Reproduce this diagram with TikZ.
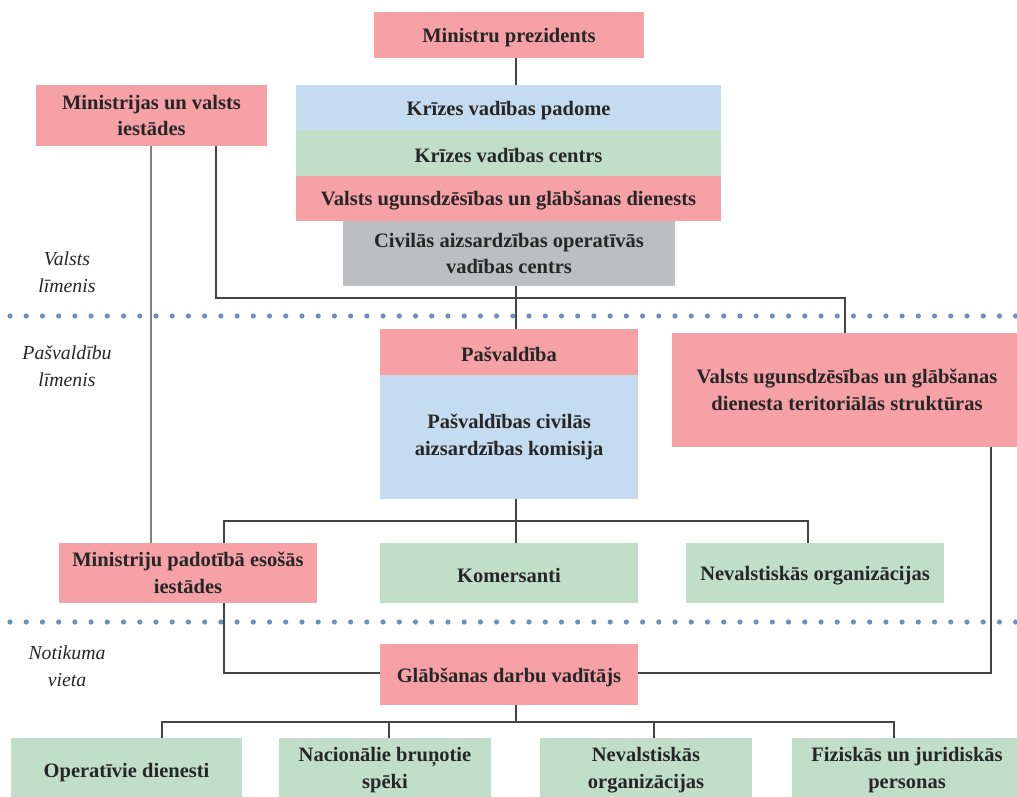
\documentclass[tikz,border=0pt]{standalone}
\usepackage{fontspec}
\setmainfont{Liberation Serif}
\definecolor{cred}{HTML}{F6A1A5}
\definecolor{cblue}{HTML}{C5DBF0}
\definecolor{cgreen}{HTML}{C1DFC8}
\definecolor{cgray}{HTML}{BDBEC2}
\definecolor{txt}{HTML}{262626}
\definecolor{dotc}{HTML}{6B8FC5}
\definecolor{linec}{HTML}{444444}
\begin{document}
\begin{tikzpicture}[x=1pt,y=-1pt,
  box/.style={inner sep=0pt, outer sep=0pt, align=center, text=txt,
    font=\bfseries\fontsize{20.5}{26.5}\selectfont,
    execute at begin node={\rule{0pt}{19.5pt}}},
  lvl/.style={inner sep=0pt, align=center, text=txt,
    font=\itshape\fontsize{19.8}{27}\selectfont},
  conn/.style={draw=linec, line width=1.3pt},
  connlight/.style={draw=gray, line width=1.8pt}]
\useasboundingbox (0,0) rectangle (1017,796);

% level separators
\foreach \i in {0,...,62} {
  \fill[dotc] ({10+16.22*\i},316) circle[radius=2.6pt];
  \fill[dotc] ({10+16.22*\i},622) circle[radius=2.6pt];
}

% level labels
\node[lvl] (l1) at (67,272) {Valsts\\līmenis};
\node[lvl] (l2) at (67,366.5) {Pašvaldību\\līmenis};
\node[lvl] (l3) at (67,666) {Notikuma\\vieta};

% helper coordinates
\coordinate (j1) at (216,298);
\coordinate (j2) at (845,298);
\coordinate (bl) at (224,521);
\coordinate (br) at (808,521);
\coordinate (dl) at (162,722);
\coordinate (dr) at (894,722);

% boxes
\node[box, fill=cred, minimum width=270pt, minimum height=46pt] (mp) at (509,35) {Ministru prezidents};
\node[box, fill=cred, minimum width=231pt, minimum height=61pt] (mi) at (151.5,115.5) {Ministrijas un valsts\\iestādes};
\node[box, fill=cblue, minimum width=425pt, minimum height=45pt] (kvp) at (508.5,107.5) {Krīzes vadības padome};
\node[box, fill=cgreen, minimum width=425pt, minimum height=46pt] (kvc) at (508.5,153) {Krīzes vadības centrs};
\node[box, fill=cred, minimum width=425pt, minimum height=45pt] (vugd) at (508.5,198.5) {Valsts ugunsdzēsības un glābšanas dienests};
\node[box, fill=cgray, minimum width=332pt, minimum height=65pt] (cad) at (509,253.5) {Civilās aizsardzības operatīvās\\vadības centrs};
\node[box, fill=cred, minimum width=258pt, minimum height=46pt] (pas) at (509,352) {Pašvaldība};
\node[box, fill=cblue, minimum width=258pt, minimum height=124pt] (pck) at (509,437) {Pašvaldības civilās\\aizsardzības komisija};
\node[box, fill=cred, minimum width=350pt, minimum height=114pt] (vt) at (847,390) {Valsts ugunsdzēsības un glābšanas\\dienesta teritoriālās struktūras};
\node[box, fill=cred, minimum width=258pt, minimum height=60pt] (mpi) at (188,573) {Ministriju padotībā esošās\\iestādes};
\node[box, fill=cgreen, minimum width=258pt, minimum height=60pt] (kom) at (509,573) {Komersanti};
\node[box, fill=cgreen, minimum width=258pt, minimum height=60pt] (nvo) at (815,573) {Nevalstiskās organizācijas};
\node[box, fill=cred, minimum width=258pt, minimum height=61pt] (gdv) at (509,674.5) {Glābšanas darbu vadītājs};
\node[box, fill=cgreen, minimum width=231pt, minimum height=64pt] (od) at (126.5,770) {Operatīvie dienesti};
\node[box, fill=cgreen, minimum width=212pt, minimum height=64pt] (nbs) at (385,770) {Nacionālie bruņotie\\spēki};
\node[box, fill=cgreen, minimum width=212pt, minimum height=64pt] (nvo2) at (646,770) {Nevalstiskās\\organizācijas};
\node[box, fill=cgreen, minimum width=230pt, minimum height=64pt] (fjp) at (907,770) {Fiziskās un juridiskās\\personas};

% connectors
\draw[conn] (mp.south -| 516,0) -- (kvp.north -| 516,0);
\draw[conn] (cad.south -| 516,0) -- (pas.north -| 516,0);
\draw[connlight] (mi.south -| 151,0) -- (mpi.north -| 151,0);
\draw[conn] (mi.south -| j1) -- (j1) -- (j2) -- (vt.north -| j2);
\draw[conn] (pck.south -| 516,0) -- (kom.north -| 516,0);
\draw[conn] (mpi.north -| bl) -- (bl) -- (br) -- (nvo.north -| br);
\draw[conn] (mpi.south -| bl) |- (gdv.west |- 0,673);
\draw[conn] (vt.south -| 991,0) |- (gdv.east |- 0,673);
\draw[conn] (gdv.south -| 516,0) -- (516,722);
\draw[conn] (od.north -| dl) -- (dl) -- (dr) -- (fjp.north -| dr);
\draw[conn] (nbs.north -| 389,0) -- (389,722);
\draw[conn] (nvo2.north -| 654,0) -- (654,722);
\end{tikzpicture}
\end{document}
